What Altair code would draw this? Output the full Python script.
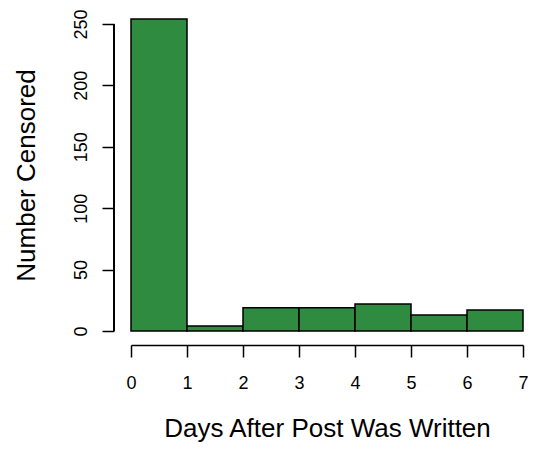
import altair as alt
import pandas as pd

# Histogram data
bin_start = [0, 1, 2, 3, 4, 5, 6]
bin_end = [1, 2, 3, 4, 5, 6, 7]
counts = [254, 4, 19, 19, 22, 13, 17]
x_ticks = [0, 1, 2, 3, 4, 5, 6, 7]
y_ticks = [0, 50, 100, 150, 200, 250]

df = pd.DataFrame({"start": bin_start, "end": bin_end, "count": counts})
span = pd.DataFrame({"lo": [y_ticks[0]], "hi": [y_ticks[-1]]})

FONT = "Liberation Sans"
W, H = 392, 312

bars = alt.Chart(df).mark_bar(
    color="#2E8B40", stroke="black", strokeWidth=1.5
).encode(
    x=alt.X(
        "start:Q",
        scale=alt.Scale(domain=[0, 7], nice=False, zero=False),
        axis=alt.Axis(
            values=x_ticks, format="d", title="Days After Post Was Written",
            offset=14, tickSize=12, labelPadding=31, labelBaseline="alphabetic",
            labelFlush=False,
            labelFontSize=18, titleFontSize=26, titleFontWeight="normal",
            titleBaseline="alphabetic", titleAlign="center",
            titleX=W / 2, titleY=91, grid=False,
        ),
    ),
    x2="end:Q",
    y=alt.Y(
        "count:Q",
        scale=alt.Scale(domain=[0, 254], nice=False),
        axis=alt.Axis(
            values=y_ticks, format="d", title="Number Censored",
            offset=17, domain=False, tickSize=12, labelPadding=16,
            labelAngle=270, labelAlign="center", labelBaseline="alphabetic",
            labelFlush=False,
            labelFontSize=18, titleFontSize=26, titleFontWeight="normal",
            titleAngle=270, titleBaseline="alphabetic", titleAlign="center",
            titleX=-80, titleY=H / 2, grid=False,
        ),
    ),
    y2=alt.datum(0),
)

# R-style y axis line spanning only the tick range (0 to 250)
y_axis_line = alt.Chart(span).mark_rule(color="black", strokeWidth=2).encode(
    y=alt.Y("lo:Q"), y2="hi:Q", x=alt.value(-17)
)

chart = alt.layer(bars, y_axis_line).properties(
    width=W, height=H,
    autosize=alt.AutoSizeParams(type="none"),
    padding={"left": 123, "top": 11, "right": 5, "bottom": 111},
).configure_view(stroke=None).configure_axis(
    labelFont=FONT, titleFont=FONT, labelColor="black", titleColor="black",
    domainColor="black", tickColor="black", domainWidth=1.5, tickWidth=1.5,
)

chart.save("out.html", embed_options={"renderer": "svg", "actions": False})
